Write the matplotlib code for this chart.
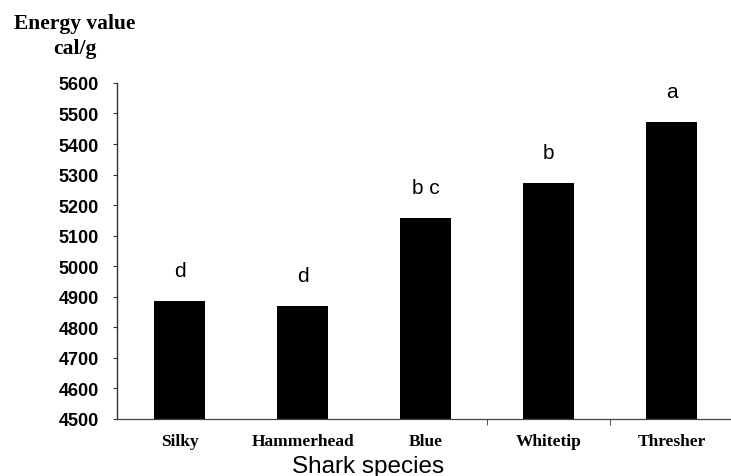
import matplotlib.pyplot as plt
import numpy as np

# energy content of shark livers by species
species = ["Silky", "Hammerhead", "Blue", "Whitetip", "Thresher"]
energy = [4885, 4869, 5158, 5273, 5472]
groups = ["d", "d", "b c", "b", "a"]

ymin = 4500
ymax = 5600

fig = plt.figure(figsize=(7.31, 4.77), dpi=100)
ax = fig.add_axes([0.160, 0.120, 0.838, 0.704])

x = np.arange(len(species))
ax.bar(x, energy, width=0.415, color="black")

# significance letters above each bar
for xi, val, g in zip(x, energy, groups):
    ax.text(xi, val + 100, g, ha="center", va="center", fontsize=15,
            family="Liberation Sans")

ax.set_xlim(-0.51, 4.47)
ax.set_ylim(ymin, ymax)
ax.set_yticks(np.arange(ymin, ymax + 1, 100))

ax.spines["top"].set_visible(False)
ax.spines["right"].set_visible(False)
ax.spines["left"].set_color("#333333")
ax.spines["bottom"].set_color("#444444")
ax.spines["left"].set_linewidth(1.0)
ax.spines["bottom"].set_linewidth(0.9)

ax.set_xticks(x)
ax.set_xticklabels(species, family="Liberation Serif", fontweight="bold",
                   fontsize=12.5)
ax.set_xticks([2.5, 3.5], minor=True)
ax.tick_params(axis="x", which="major", length=0, pad=10)
ax.tick_params(axis="x", which="minor", length=4, color="#333333")
ax.tick_params(axis="y", length=3, pad=10, color="#333333")
for lab in ax.get_yticklabels():
    lab.set_family("Liberation Sans")
    lab.set_fontweight("bold")
    lab.set_fontsize(13)

fig.text(75 / 731, 1 - 24 / 477, "Energy value", ha="center", va="center",
         family="Liberation Serif", fontweight="bold", fontsize=15.5)
fig.text(75 / 731, 1 - 49 / 477, "cal/g", ha="center", va="center",
         family="Liberation Serif", fontweight="bold", fontsize=15.5)
fig.text(368 / 731, 1 - 467 / 477, "Shark species", ha="center", va="center",
         family="Liberation Sans", fontsize=17.5)

fig.savefig("out.png", dpi=100)
